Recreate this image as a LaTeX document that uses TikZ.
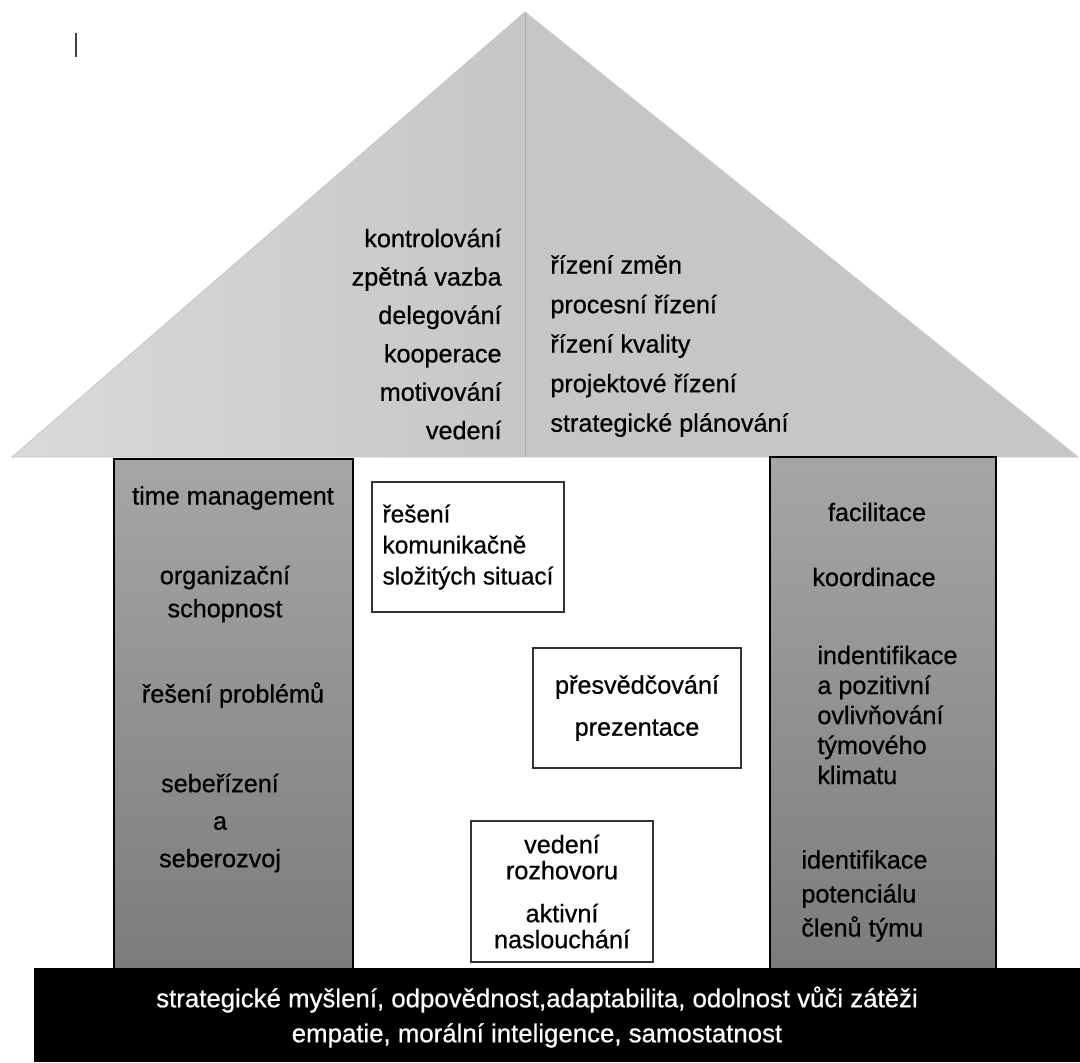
\documentclass[tikz,border=0pt]{standalone}
\usepackage{fontspec}
\setmainfont{Liberation Sans}[FakeBold=0.6]
\definecolor{roofgray}{HTML}{C6C6C6}
\definecolor{rooflight}{HTML}{DADADA}
\definecolor{pillartop}{HTML}{A6A6A6}
\definecolor{pillarbot}{HTML}{7C7C7C}
\tikzset{
  txt/.style={inner sep=0pt, font=\fontsize{12.6}{16}\selectfont},
  pillar/.style={draw=black, line width=0.9pt, top color=pillartop, bottom color=pillarbot, anchor=north west, inner sep=0pt},
  skillbox/.style={draw=black!80, line width=0.75pt, fill=white},
}

\begin{document}
\begin{tikzpicture}[x=0.5pt,y=-0.5pt]
  \useasboundingbox (0,0) rectangle (1080,1062);
  \draw[black!75, line width=1pt] (76,33) -- (76,57);
  \shade[left color=rooflight, right color=roofgray] (12,457) -- (525,12) -- (525,457) -- cycle;
  \fill[roofgray] (525,12) -- (1078,457) -- (525,457) -- cycle;
  \draw[black!22] (12,457) -- (525,12) -- (1078,457) -- cycle;
  \draw[black!32] (525,12) -- (525,457);

  \node[txt, align=right, anchor=east, font=\fontsize{12.6}{19.2}\selectfont] (leftroof) at (502,334)
    {kontrolování\\zpětná vazba\\delegování\\kooperace\\motivování\\vedení};
  \node[txt, align=left, anchor=west, font=\fontsize{12.6}{19.75}\selectfont] (rightroof) at (550,346)
    {řízení změn\\procesní řízení\\řízení kvality\\projektové řízení\\strategické plánování};

  \node[pillar, minimum width=119.5pt, minimum height=255pt] (leftpillar) at (113,458) {};
  \node[pillar, minimum width=113pt, minimum height=256pt] (rightpillar) at (769,456) {};
  \fill[black] (34,968) rectangle (1080,1062);

  \node[txt] (timemgmt) at (233,498) {time management};
  \node[txt, align=center, font=\fontsize{12.6}{16.5}\selectfont] (organiz) at (225,594) {organizační\\schopnost};
  \node[txt] (problemy) at (233,695) {řešení problémů};
  \node[txt, align=center, font=\fontsize{12.6}{18.75}\selectfont] (seberizeni) at (220,823) {sebeřízení\\a\\seberozvoj};

  \node[txt] (facilit) at (877,512) {facilitace};
  \node[txt] (koord) at (874,577) {koordinace};
  \node[txt, align=left, anchor=west, font=\fontsize{12.6}{15}\selectfont] (klima) at (817,715)
    {indentifikace\\a pozitivní\\ovlivňování\\týmového\\klimatu};
  \node[txt, align=left, anchor=west, font=\fontsize{12.6}{17}\selectfont] (potencial) at (801,896)
    {identifikace\\potenciálu\\členů týmu};

  \node[skillbox, minimum width=96pt, minimum height=65pt, align=left, font=\fontsize{12.2}{15.5}\selectfont] (reseni) at (468,547)
    {řešení\\komunikačně\\složitých situací};
  \node[skillbox, minimum width=104pt, minimum height=60pt, align=center, font=\fontsize{12.6}{21}\selectfont] (presved) at (637,708)
    {přesvědčování\\prezentace};
  \node[skillbox, minimum width=91pt, minimum height=70.5pt, align=center, font=\fontsize{12.6}{13}\selectfont] (rozhovor) at (562,891.5)
    {vedení\\rozhovoru\\[8.5pt]aktivní\\naslouchání};

  \node[txt, text=white, align=center, font=\fontsize{12.9}{17.5}\selectfont] (zaklad) at (537,1017)
    {strategické myšlení, odpovědnost,adaptabilita, odolnost vůči zátěži\\empatie, morální inteligence, samostatnost};
\end{tikzpicture}
\end{document}
